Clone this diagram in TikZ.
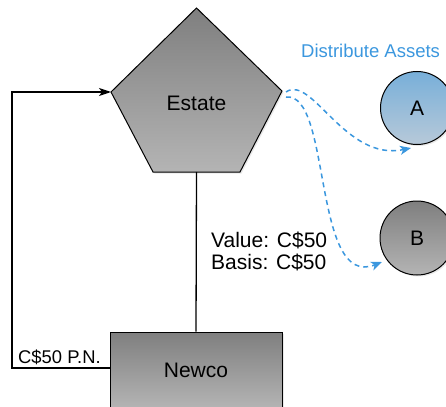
\documentclass[tikz,border=0pt]{standalone}
\usepackage{fontspec}
\setmainfont{Liberation Sans}
\usetikzlibrary{arrows.meta,shadows,calc}
\definecolor{flowblue}{HTML}{3B97DE}
\definecolor{greytop}{HTML}{7F7F7F}
\definecolor{greybot}{HTML}{B4B4B4}
\definecolor{bluetop}{HTML}{78AFD9}
\definecolor{bluebot}{HTML}{B7C9D9}
\tikzset{
  lbl/.style={font=\fontsize{21}{22}\selectfont, inner sep=0pt},
  greyfill/.style={top color=greytop, bottom color=greybot},
  softshadow/.style={drop shadow={opacity=0.18, shadow xshift=1.5pt, shadow yshift=-1.5pt}},
  entity/.style={draw=black, line width=1pt, greyfill, softshadow},
  link/.style={draw=black, line width=1.3pt},
  flow/.style={draw=flowblue, line width=1.5pt, dash pattern=on 5pt off 4pt,
    -{Stealth[length=11pt, width=9pt, inset=3pt]}},
}
\begin{document}
\begin{tikzpicture}[x=1pt, y=-1pt]
  \useasboundingbox (0,0) rectangle (446,406);
  \clip (0,0) rectangle (446,406);

  % Estate: pentagon outline through its corners
  \coordinate (eT)  at (196.5,8);
  \coordinate (eR)  at (282,91);
  \coordinate (eBR) at (240,172);
  \coordinate (eBL) at (153,172);
  \coordinate (eL)  at (111,92);
  \coordinate (eB)  at (196.5,172);
  \path[entity] (eT) -- (eR) -- (eBR) -- (eBL) -- (eL) -- cycle;
  \node[lbl] (estate) at (196.5,103) {Estate};

  % Newco
  \node[entity, lbl, minimum width=172pt, minimum height=76pt] (newco) at (196,370) {Newco};

  % Beneficiaries
  \node[draw=black, line width=1pt, circle, minimum size=73pt, inner sep=0pt,
        top color=bluetop, bottom color=bluebot, softshadow, lbl] (a) at (417,108) {A};
  \node[draw=black, line width=1pt, circle, minimum size=74pt, inner sep=0pt,
        greyfill, softshadow, lbl] (b) at (417,238) {B};

  % Estate to Newco
  \draw[link] (eB) -- (newco.north);
  \node[lbl, anchor=west, align=left] (vb) at (211,251) {Value: C\$50\\Basis: C\$50};

  % Promissory note back to the estate
  \coordinate (loop) at (12,368);
  \draw[link, -{Stealth[length=12pt, width=8pt, inset=3pt]}]
    ($(newco.west)+(0,-2)$) -- (loop) |- (eL);
  \node[font=\fontsize{18.4}{20}\selectfont, inner sep=0pt, anchor=base west] (pn) at (18,363) {C\$50 P.N.};

  % Distribution of assets
  \node[font=\fontsize{18.5}{20}\selectfont, text=flowblue, inner sep=0pt, anchor=base west] (dist) at (301,58) {Distribute Assets};
  \coordinate (s1) at (286,92);
  \coordinate (s2) at (286,97);
  \coordinate (t1) at (411,148);
  \coordinate (t2) at (382,262);
  \draw[flow] (s1) .. controls (312,74) and (345,162) .. (t1);
  \draw[flow] (s2) .. controls (332,92) and (312,290) .. (t2);
\end{tikzpicture}
\end{document}
